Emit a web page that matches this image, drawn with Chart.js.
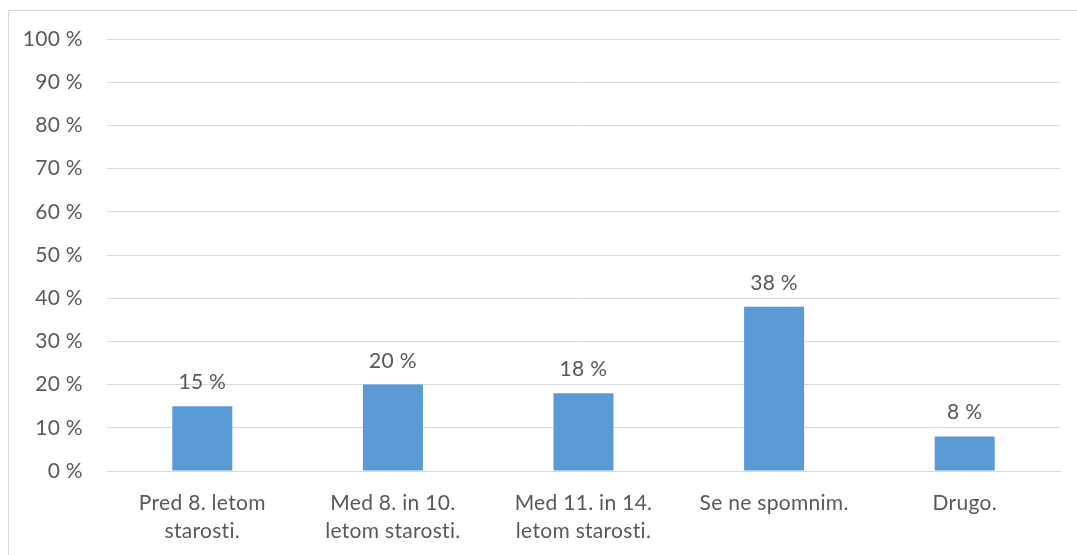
<!DOCTYPE html>
<html lang="sl">
<head>
    <meta charset="UTF-8">
    <title>Graf</title>
    <script src="https://cdn.jsdelivr.net/npm/chart.js"></script>
    <style>
        html, body { margin: 0; padding: 0; background: #fff; overflow: hidden; }
        .frame {
            position: absolute;
            left: 8px;
            top: 10px;
            width: 1100px;
            height: 600px;
            border: 1px solid #d9d9d9;
        }
        .wrap { position: absolute; left: 0; top: 0; width: 1077px; height: 555px; }
    </style>
</head>
<body>
    <div class="frame"></div>
    <div class="wrap"><canvas id="chart" width="1077" height="555"></canvas></div>

    <script>
        const categories = [
            ['Pred 8. letom', 'starosti.'],
            ['Med 8. in 10.', 'letom starosti.'],
            ['Med 11. in 14.', 'letom starosti.'],
            'Se ne spomnim.',
            'Drugo.'
        ];
        const values = [15, 20, 18, 38, 8];

        const FONT = "Lato, 'Open Sans', sans-serif";
        const TEXT = '#595959';

        // brez ligatur (ti), malo razmika
        const spacingPlugin = {
            id: 'spacing',
            beforeDraw(chart) {
                chart.ctx.letterSpacing = '0.3px';
            }
        };

        // vrednosti nad stolpci
        const labelPlugin = {
            id: 'labels',
            afterDatasetsDraw(chart) {
                const ctx = chart.ctx;
                const meta = chart.getDatasetMeta(0);
                ctx.save();
                ctx.font = '21px ' + FONT;
                ctx.fillStyle = TEXT;
                ctx.textAlign = 'center';
                ctx.textBaseline = 'alphabetic';
                meta.data.forEach((bar, i) => {
                    ctx.fillText(values[i] + ' %', bar.x, bar.y - 17);
                });
                ctx.restore();
            }
        };

        new Chart(document.getElementById('chart'), {
            type: 'bar',
            data: {
                labels: categories,
                datasets: [{
                    data: values,
                    backgroundColor: '#5b9bd5',
                    categoryPercentage: 1,
                    barPercentage: 0.315
                }]
            },
            options: {
                responsive: false,
                animation: false,
                layout: { padding: { left: 0, right: 17, top: 39, bottom: 0 } },
                plugins: {
                    legend: { display: false },
                    tooltip: { enabled: false }
                },
                scales: {
                    x: {
                        grid: { display: false },
                        border: { color: '#d9d9d9', width: 1 },
                        ticks: {
                            color: TEXT,
                            font: { family: FONT, size: 21, lineHeight: '28px' },
                            padding: 10,
                            maxRotation: 0,
                            autoSkip: false
                        },
                        afterFit(scale) { scale.height = 84; }
                    },
                    y: {
                        min: 0,
                        max: 100,
                        ticks: {
                            stepSize: 10,
                            color: TEXT,
                            font: { family: FONT, size: 21 },
                            padding: 24,
                            callback: v => v + ' %'
                        },
                        grid: { color: '#d9d9d9', lineWidth: 1, drawTicks: false },
                        border: { display: false },
                        afterFit(scale) { scale.width = 107; }
                    }
                }
            },
            plugins: [spacingPlugin, labelPlugin]
        });
    </script>
</body>
</html>
